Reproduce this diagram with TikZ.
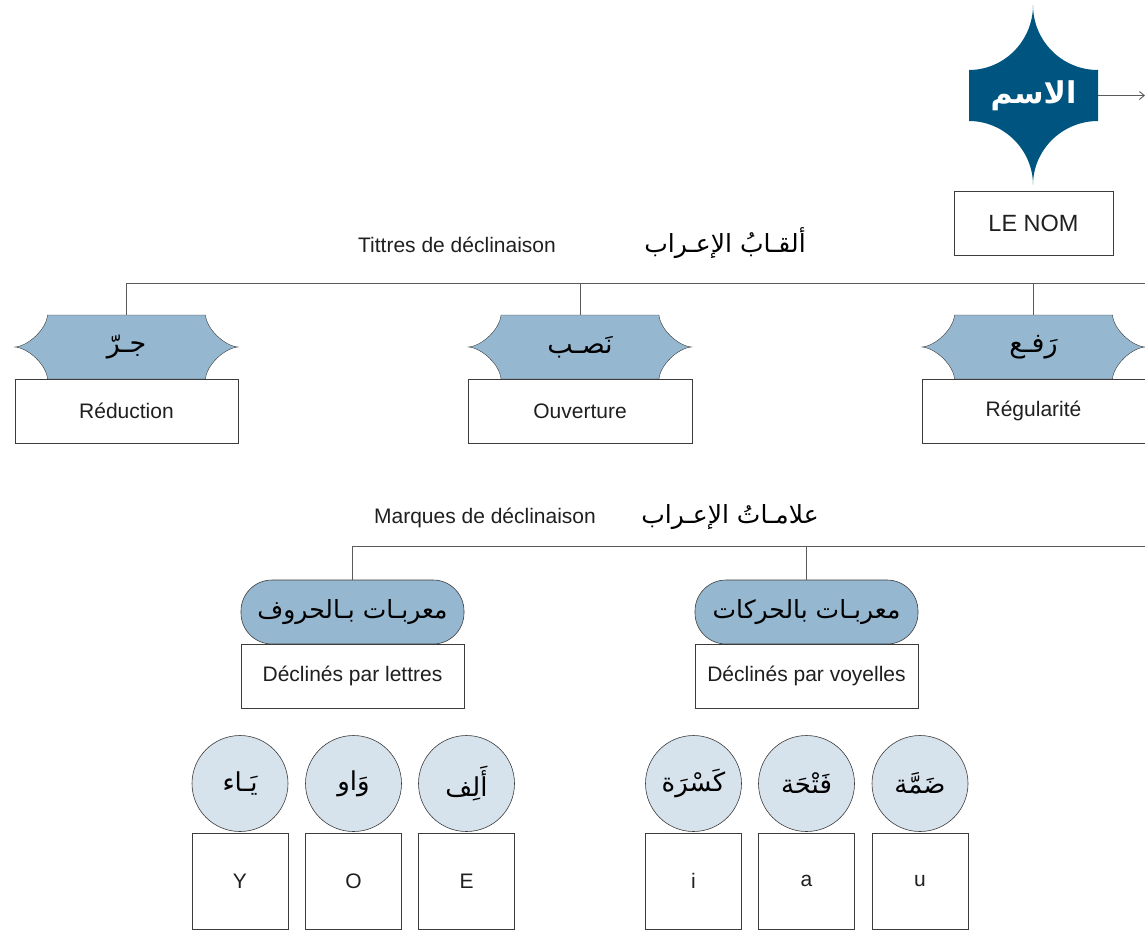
\documentclass[tikz,border=0pt]{standalone}
\usepackage{fontspec}
\setmainfont{Liberation Sans}
\newfontfamily\arabicfont[Script=Arabic]{DejaVu Sans}
\TeXXeTstate=1
\usetikzlibrary{arrows.meta}
\definecolor{starblue}{RGB}{0,84,128}
\definecolor{tabblue}{RGB}{150,183,208}
\definecolor{paleblue}{RGB}{214,226,236}
\definecolor{edgegray}{RGB}{60,60,60}
\definecolor{linegray}{RGB}{90,90,90}
\newcommand\artext[1]{{\arabicfont\beginR #1\endR}}

\begin{document}
\begin{tikzpicture}[x=1pt,y=-1pt,
  latin/.style={font=\fontsize{21}{24}\selectfont, text=black!88, inner sep=0pt},
  arab/.style={font=\fontsize{25}{30}\selectfont, text=black, inner sep=0pt},
  box/.style={draw=edgegray, line width=0.9pt, fill=white, rectangle, inner sep=0pt,
    minimum width=#1, minimum height=64, font=\fontsize{21}{24}\selectfont, text=black!88},
  pill/.style={draw=edgegray, line width=0.6pt, fill=tabblue, rectangle, rounded corners=31pt,
    inner sep=0pt, minimum width=223, minimum height=64, font=\fontsize{25}{30}\selectfont},
  disc/.style={draw=edgegray, line width=0.6pt, fill=paleblue, circle, inner sep=0pt,
    minimum size=96, font=\fontsize{26}{30}\selectfont},
  sq/.style={draw=edgegray, line width=0.9pt, fill=white, rectangle, inner sep=0pt,
    minimum width=96, minimum height=96, font=\fontsize{21}{24}\selectfont, text=black!88},
  tablabel/.style={rectangle, inner sep=0pt, minimum width=158, minimum height=64,
    font=\fontsize{27}{30}\selectfont},
  conn/.style={draw=linegray, line width=0.9pt},
  pics/tabshape/.style={code={
    \filldraw[fill=tabblue, draw=edgegray, line width=0.4pt]
      (-79,-32) -- (79,-32) .. controls (80,-18) and (98,-1) .. (111.5,0)
      .. controls (98,1) and (80,18) .. (79,32) -- (-79,32)
      .. controls (-80,18) and (-98,1) .. (-111.5,0)
      .. controls (-98,-1) and (-80,-18) .. (-79,-32) -- cycle;
  }}
]
\useasboundingbox (0,0) rectangle (1145,930);

% ---- the noun: star badge with its French label
\fill[starblue] (969,70) .. controls (1004,70) and (1033,41) .. (1033,5)
  .. controls (1033,41) and (1062,70) .. (1098,70) -- (1098,121)
  .. controls (1062,121) and (1033,150) .. (1033,185)
  .. controls (1033,150) and (1004,121) .. (969,121) -- cycle;
\node[rectangle, minimum width=129, minimum height=51, inner sep=0pt, text=white,
  font=\fontsize{30}{34}\selectfont\bfseries] (ism) at (1033.5,95.5) {\artext{الاسم}};
\coordinate (ismout) at (1145,95.5);
\draw[conn, -{Straight Barb[length=5pt,width=8pt]}] (ism.east) -- (ismout);
\node[box=159, font=\fontsize{23.5}{26}\selectfont] (nom) at (1033.5,223) {LE NOM};

% ---- declension titles
\node[latin] (titleA) at (457,245) {Tittres de déclinaison};
\node[arab] (titleAr) at (725,243) {\artext{ألقـابُ الإعـراب}};
\coordinate (barL) at (126.5,283);
\coordinate (barR) at (1145,283);
\draw[conn] (barL) -- (barR);

\coordinate (jarrc) at (126.5,347);
\coordinate (nasbc) at (580,347);
\coordinate (rafac) at (1033.5,347);
\pic at (jarrc) {tabshape};
\pic at (nasbc) {tabshape};
\pic at (rafac) {tabshape};
\node[tablabel] (jarr) at (jarrc) {\artext{جـرّ}};
\node[tablabel] (nasb) at (nasbc) {\artext{نَصـب}};
\node[tablabel] (rafa) at (rafac) {\artext{رَفـع}};
\foreach \t in {jarr,nasb,rafa}{
  \draw[conn] (\t.north |- barL) -- (\t.north);
}

\node[box=223] (reduc) at (126.5,411) {Réduction};
\node[box=224] (ouver) at (580,411) {Ouverture};
\node[box=223] (regul) at (1033.5,411) {Régularité};

% ---- declension marks
\node[latin] (titleB) at (485,518) {Marques de déclinaison};
\node[arab] (titleBr) at (730,517) {\artext{علامـاتُ الإعـراب}};
\coordinate (bar2L) at (352.5,546);
\coordinate (bar2R) at (1145,546);
\draw[conn] (bar2L) -- (bar2R);

\node[pill] (huruf) at (352.5,612) {\artext{معربـات بـالحروف}};
\node[pill] (harak) at (806.5,612) {\artext{معربـات بالحركات}};
\draw[conn] (bar2L) -- (huruf.north);
\draw[conn] (harak.north |- bar2L) -- (harak.north);

\node[box=223] (lettres) at (352.5,676) {Déclinés par lettres};
\node[box=223] (voyel) at (806.5,676) {Déclinés par voyelles};

% ---- letters and vowels
\node[disc] (ya)  at (240,783.5) {\artext{يَـاء}};
\node[disc] (waw) at (353.5,783.5) {\artext{وَاو}};
\node[disc] (alif) at (466.5,783.5) {\artext{أَلِف}};
\node[disc] (kasra) at (693.5,783.5) {\artext{كَسْرَة}};
\node[disc] (fatha) at (806.5,783.5) {\artext{فَتْحَة}};
\node[disc] (damma) at (920,783.5) {\artext{ضَمَّة}};

\node[sq] (Y) at (240,881) {Y};
\node[sq] (O) at (353.5,881) {O};
\node[sq] (E) at (466.5,881) {E};
\node[sq] (I) at (693.5,881) {i};
\node[sq] (A) at (806.5,881) {a};
\node[sq] (U) at (920,881) {u};
\end{tikzpicture}
\end{document}
